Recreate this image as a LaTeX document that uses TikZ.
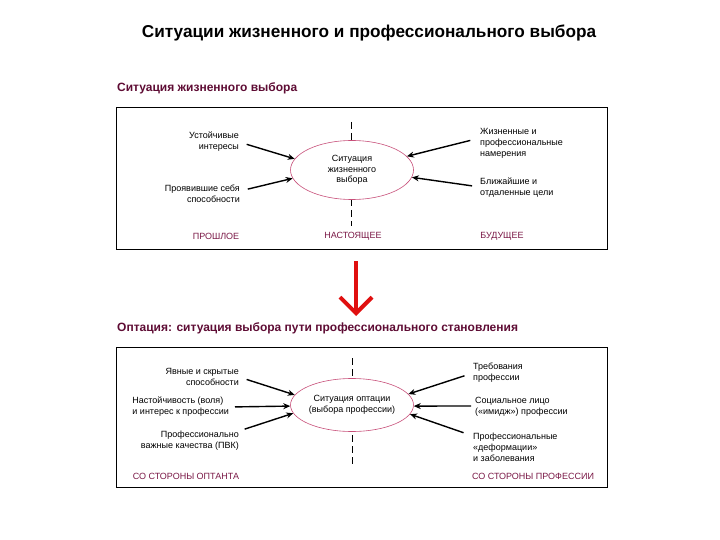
\documentclass[tikz,border=0pt]{standalone}
\usepackage{fontspec}
\setmainfont{Liberation Sans}
\usepackage{tikz}
\usetikzlibrary{arrows.meta,positioning,calc,shapes.geometric}
\definecolor{cM}{HTML}{7a1846}
\definecolor{cT}{HTML}{5e0c34}
\definecolor{cP}{HTML}{c8507a}
\definecolor{cR}{HTML}{e01010}
\tikzset{
  lbl/.style={inner sep=0pt,font=\fontsize{9}{11}\selectfont},
  lblL/.style={lbl,anchor=east,align=right},
  lblR/.style={lbl,anchor=west,align=left},
  era/.style={inner sep=0pt,font=\fontsize{9}{11}\selectfont,text=cM},
  sit/.style={ellipse,draw=cP,line width=.6pt,fill=white,inner sep=0pt,
              align=center,font=\fontsize{9}{10.5}\selectfont},
  feed/.style={-{Stealth[length=7pt,width=6pt]},line width=1.4pt,shorten <=8pt},
  frame/.style={draw=black,line width=.8pt},
  midline/.style={dash pattern=on 7pt off 4pt,line width=.6pt},
  head/.style={inner sep=0pt,anchor=west,font=\fontsize{12}{14}\selectfont\bfseries,text=cT},
  bigdown/.style={-{Straight Barb[length=16pt,width=32pt]},line width=4pt,cR},
}

\begin{document}
\begin{tikzpicture}[x=1pt,y=-1pt]
  \useasboundingbox (0,0) rectangle (720,540);
  \node[font=\fontsize{17.2}{20}\selectfont\bfseries] (title) at (369,33)
     {Ситуации жизненного и профессионального выбора};

  % life choice
  \node[head] (h1) at (117,88) {Ситуация жизненного выбора};
  \draw[frame] (116,107) rectangle (607,249);
  \draw[midline] (351,122) -- (351,226);
  \node[sit,minimum width=123pt,minimum height=59pt] (s1) at (352,170)
     {Ситуация\\жизненного\\выбора};
  \node[lblL] (u1) at (239,142) {Устойчивые\\интересы};
  \node[lblL] (u2) at (240,194) {Проявившие себя\\способности};
  \node[lblR] (f1) at (480,143) {Жизненные и\\профессиональные\\намерения};
  \node[lblR] (f2) at (480,188) {Ближайшие и\\отдаленные цели};
  \draw[feed](u1.east)--(s1.169);\draw[feed]([yshift=3pt]u2.east)--(s1.188);
  \draw[feed,shorten <=10pt]([yshift=5pt]f1.west)--(s1.14);
  \draw[feed]([yshift=1pt]f2.west)--(s1.353);
  \node[era] (past) at (216,236) {ПРОШЛОЕ};
  \node[era] (now) at (353,236) {НАСТОЯЩЕЕ};
  \node[era] (fut) at (502,236) {БУДУЩЕЕ};

  \coordinate (a) at (356,261);
  \coordinate (b) at (356,316);
  \draw[bigdown] (a) -- (b);

  % choice of profession
  \node[head] (h2) at (117,328)
     {Оптация: ситуация выбора пути профессионального становления};
  \draw[frame] (116,347) rectangle (607,487);
  \draw[midline] (352,358) -- (352,464);
  \node[sit,minimum width=123pt,minimum height=53pt] (s2) at (352,405)
     {Ситуация оптации\\(выбора профессии)};
  \node[lblL] (o1) at (239,377) {Явные и скрытые\\способности};
  \node[lbl,anchor=east,align=left] (o2) at (229,407)
     {Настойчивость (воля)\\и интерес к профессии};
  \node[lblL] (o3) at (239,441) {Профессионально\\важные качества (ПВК)};
  \node[lblR] (p1) at (473,373) {Требования\\профессии};
  \node[lblR] (p2) at (475,407) {Социальное лицо\\(«имидж») профессии};
  \node[lblR] (p3) at (473,447) {Профессиональные\\«деформации»\\и заболевания};
  \draw[feed](o1.east)--(s2.170);\draw[feed,shorten <=6pt](o2.east)--(s2.181);
  \draw[feed,shorten <=6pt]([yshift=10pt]o3.east)--(s2.188);
  \draw[feed,shorten <=9pt](p1.west)--(s2.11);
  \draw[feed,shorten <=4pt]([yshift=1pt]p2.west)--(s2.359);
  \draw[feed,shorten <=10pt]([yshift=11pt]p3.west)--(s2.351);
  \node[era] (opt) at (186,476) {СО СТОРОНЫ ОПТАНТА};
  \node[era] (prof) at (533,476) {СО СТОРОНЫ ПРОФЕССИИ};
\end{tikzpicture}
\end{document}
